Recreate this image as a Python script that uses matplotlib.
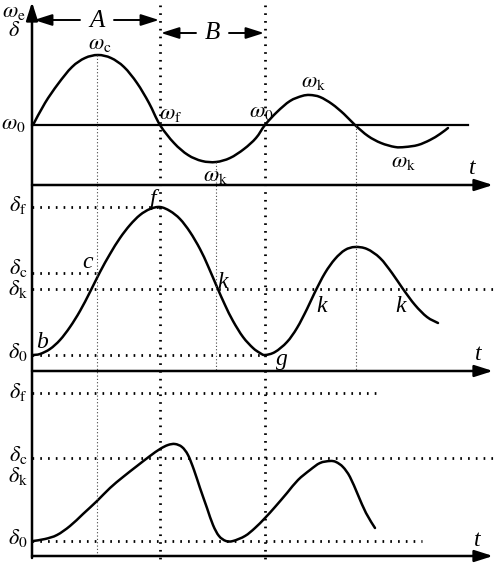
import numpy as np
import matplotlib
matplotlib.use('Agg')
import matplotlib.pyplot as plt
from matplotlib.path import Path
from matplotlib.patches import PathPatch

plt.rcParams['mathtext.fontset'] = 'stix'
plt.rcParams['font.family'] = ['Liberation Serif', 'DejaVu Serif']

# 곡선 데이터 (그림 좌표에서 읽은 값)
top_t = [33, 45, 58, 72, 85, 98, 111, 124, 137, 149, 160, 174, 188, 202, 216, 230, 244, 256, 265,
         277, 290, 302, 310, 320, 332, 344, 355, 368, 381, 395, 405, 418, 430, 440, 448]
top_w = [125, 103, 84, 67, 58, 55, 58, 67, 83, 103, 125, 143, 155, 161, 162, 158, 149, 138, 125,
         112, 101, 96, 95, 97, 104, 114, 125, 136, 143, 147, 147, 145, 140, 134, 128]

mid_t = [33, 40, 50, 60, 70, 80, 90, 100, 110, 120, 130, 140, 150, 160,
         170, 180, 190, 200, 208, 217, 225, 233, 243, 253, 260, 265,
         275, 287, 297, 307, 315, 325, 335, 345, 355,
         367, 380, 392, 403, 415, 427, 438]
mid_d = [355, 354, 349, 340, 327, 311, 292, 272, 254, 238, 225, 215, 209, 207,
         211, 219, 232, 249, 266, 287, 305, 321, 337, 348, 353, 355,
         352, 342, 328, 309, 292, 273, 259, 250, 247,
         249, 258, 273, 289, 305, 317, 323]

bot_t = [33, 45, 57, 70, 83, 97, 110, 123, 137, 150, 160, 168, 175, 182, 188, 194, 200, 207, 213,
         219, 226, 233, 245, 255, 265, 275, 287, 298, 310, 320, 330, 336, 343, 350, 358, 366, 375]
bot_d = [541, 539, 535, 526, 514, 501, 488, 477, 466, 456, 449, 445, 444, 447, 455, 470, 488, 508, 525,
         536, 541, 541, 536, 528, 518, 507, 493, 480, 470, 463, 461, 462, 467, 477, 495, 513, 528]

# 기준 레벨
lev_mid = {'f': 207, 'c': 273, 'k': 289, '0': 355}
lev_bot = {'f': 393, 'c': 458, 'k': 475, '0': 541}

W, H = 498, 565
fig = plt.figure(figsize=(W / 100, H / 100), dpi=100)
ax = fig.add_axes([0, 0, 1, 1])
ax.set_xlim(0, W)
ax.set_ylim(H, 0)
ax.axis('off')

x0 = 32
y_top, y_mid, y_bot = 185, 371, 556

def arrow(x1, y1, x2, y2, lw=1.8):
    ax.annotate('', xy=(x2, y2), xytext=(x1, y1),
                arrowprops=dict(arrowstyle='-|>,head_length=1.1,head_width=0.35',
                                color='black', lw=lw, shrinkA=0, shrinkB=0))

def smooth_curve(xs, ys, lw=1.8):
    # 점들을 통과하는 부드러운 베지어 경로 (Catmull-Rom)
    p = np.column_stack([xs, ys]).astype(float)
    verts = [p[0]]
    codes = [Path.MOVETO]
    for i in range(len(p) - 1):
        a = p[i - 1] if i > 0 else p[i]
        b, c = p[i], p[i + 1]
        d = p[i + 2] if i + 2 < len(p) else p[i + 1]
        verts += [b + (c - a) / 6, c - (d - b) / 6, c]
        codes += [Path.CURVE4] * 3
    ax.add_patch(PathPatch(Path(verts, codes), fill=False, edgecolor='black',
                           lw=lw, capstyle='round', joinstyle='round'))

# 축
arrow(x0, y_bot + 2, x0, 2)
for yy in (y_top, y_mid, y_bot):
    arrow(x0, yy, 493, yy)
ax.plot([x0, 468], [125, 125], color='black', lw=1.6)

# 점선
bold = dict(color='black', lw=2.0, linestyle=(0, (0.6, 2.2)), dash_capstyle='butt')
thin = dict(color='#444444', lw=0.8, linestyle=(0, (1, 2)))
ax.plot([160, 160], [5, 560], **bold)
ax.plot([265, 265], [5, 560], **bold)
ax.plot([97, 97], [55, y_bot], **thin)
ax.plot([216, 216], [162, y_mid], **thin)
ax.plot([356, 356], [125, y_mid], **thin)

ax.plot([x0, 160], [lev_mid['f']] * 2, **bold)
ax.plot([x0, 97], [lev_mid['c']] * 2, **bold)
ax.plot([x0, 497], [lev_mid['k']] * 2, **bold)
ax.plot([x0, 265], [lev_mid['0']] * 2, **bold)
ax.plot([x0, 382], [lev_bot['f']] * 2, **bold)
ax.plot([x0, 497], [lev_bot['c']] * 2, **bold)
ax.plot([x0, 422], [lev_bot['0']] * 2, **bold)

# 곡선
for t, v in ((top_t, top_w), (mid_t, mid_d), (bot_t, bot_d)):
    smooth_curve(t, v)

# A, B 구간 화살표
arrow(80, 20, 34, 20, lw=1.4)
arrow(114, 20, 159, 20, lw=1.4)
arrow(196, 33, 161, 33, lw=1.4)
arrow(229, 33, 264, 33, lw=1.4)
it = dict(fontstyle='italic', ha='center', va='center')
ax.text(97, 21, 'A', fontsize=18, **it)
ax.text(212, 33, 'B', fontsize=18, **it)

fs = 16
ax.text(2, 12, r'$\omega_{\rm e}$', fontsize=fs, ha='left', va='center')
ax.text(14, 32, r'$\delta$', fontsize=fs, ha='center', va='center')
ax.text(13, 125, r'$\omega_{0}$', fontsize=fs, ha='center', va='center')

ax.text(100, 45, r'$\omega_{\rm c}$', fontsize=fs, ha='center', va='center')
ax.text(171, 115, r'$\omega_{\rm f}$', fontsize=fs, ha='center', va='center')
ax.text(216, 176, r'$\omega_{\rm k}$', fontsize=fs, ha='center', va='center')
ax.text(261, 113, r'$\omega_{0}$', fontsize=fs, ha='center', va='center')
ax.text(314, 83, r'$\omega_{\rm k}$', fontsize=fs, ha='center', va='center')
ax.text(404, 162, r'$\omega_{\rm k}$', fontsize=fs, ha='center', va='center')
ax.text(472, 168, 't', fontsize=17, **it)

ax.text(18, 205, r'$\delta_{\rm f}$', fontsize=fs, ha='center', va='center')
ax.text(18, 268, r'$\delta_{\rm c}$', fontsize=fs, ha='center', va='center')
ax.text(18, 289, r'$\delta_{\rm k}$', fontsize=fs, ha='center', va='center')
ax.text(18, 352, r'$\delta_{0}$', fontsize=fs, ha='center', va='center')
ax.text(153, 199, 'f', fontsize=17, **it)
ax.text(88, 263, 'c', fontsize=17, **it)
ax.text(223, 282, 'k', fontsize=17, **it)
ax.text(42, 343, 'b', fontsize=17, **it)
ax.text(282, 360, 'g', fontsize=17, **it)
ax.text(322, 306, 'k', fontsize=17, **it)
ax.text(401, 306, 'k', fontsize=17, **it)
ax.text(478, 354, 't', fontsize=17, **it)

ax.text(18, 392, r'$\delta_{\rm f}$', fontsize=fs, ha='center', va='center')
ax.text(18, 455, r'$\delta_{\rm c}$', fontsize=fs, ha='center', va='center')
ax.text(18, 476, r'$\delta_{\rm k}$', fontsize=fs, ha='center', va='center')
ax.text(18, 538, r'$\delta_{0}$', fontsize=fs, ha='center', va='center')
ax.text(477, 540, 't', fontsize=17, **it)

fig.savefig('out.png', dpi=100)
